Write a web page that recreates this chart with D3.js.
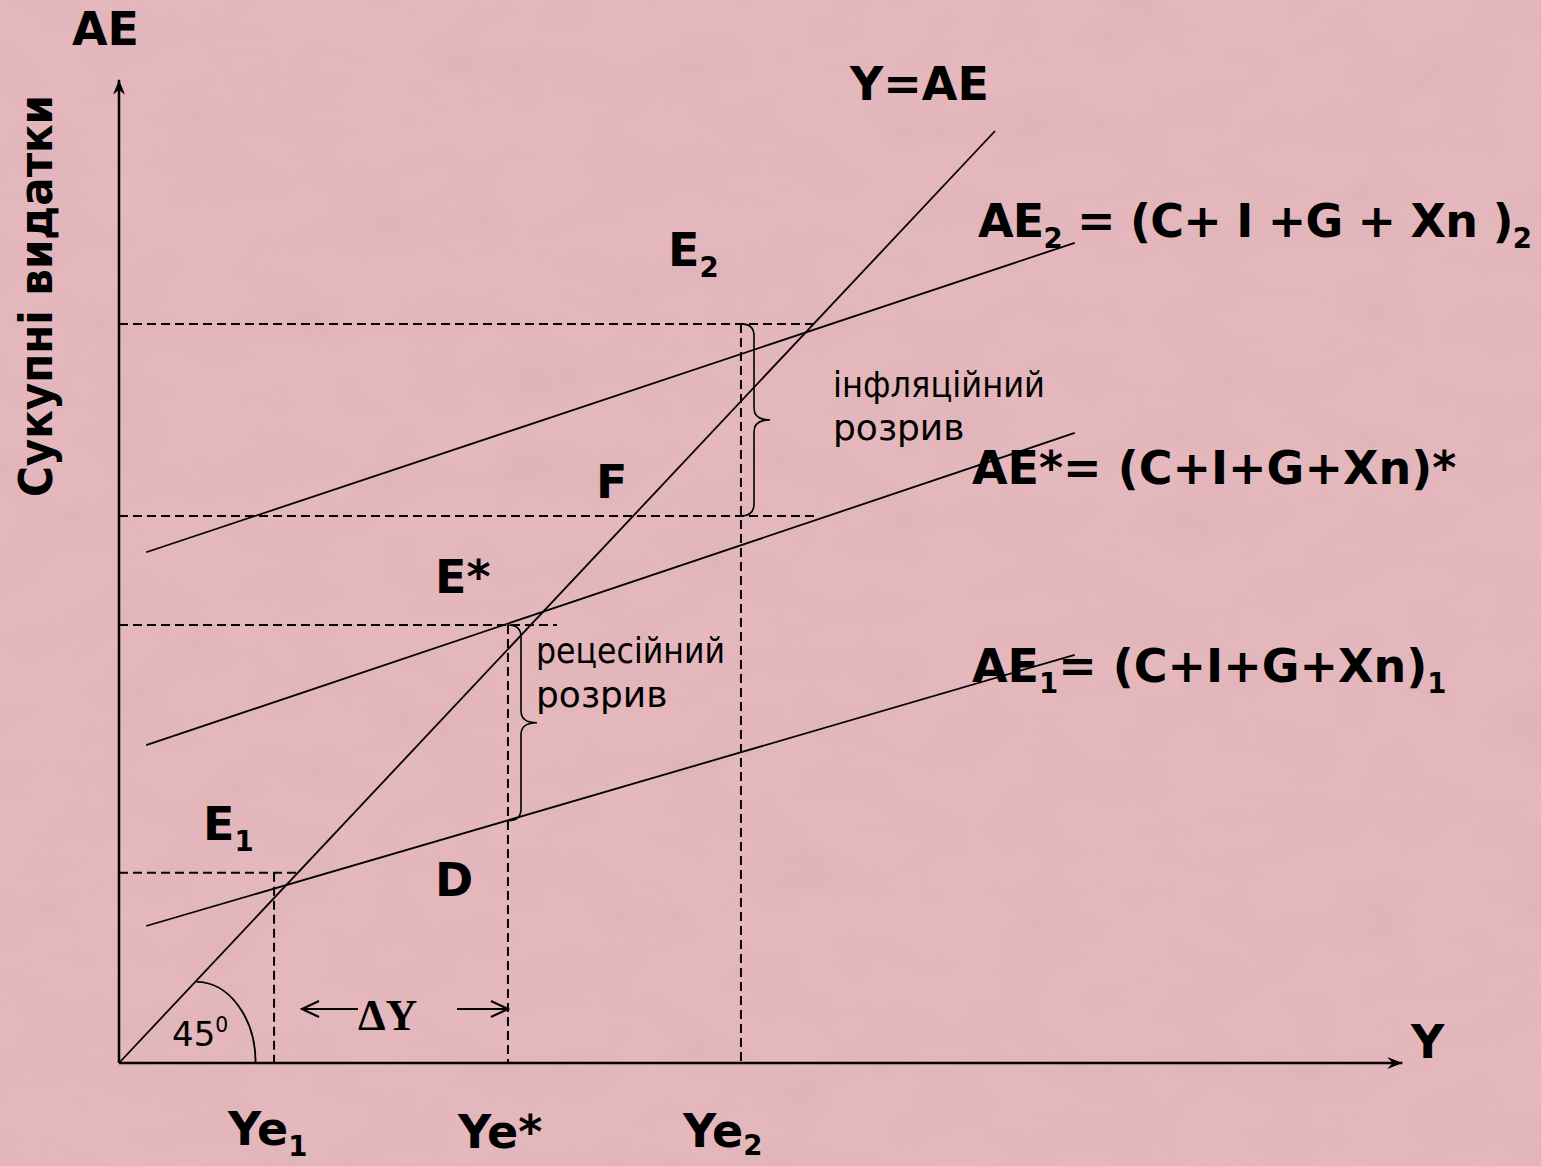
<!DOCTYPE html>
<html>
<head>
<meta charset="utf-8">
<script src="https://cdn.jsdelivr.net/npm/d3@7"></script>
<style>
  html, body { margin: 0; padding: 0; background: #e2b6bb; }
  svg { display: block; }
  .bold { font-family: 'DejaVu Sans', Verdana, sans-serif; font-weight: bold; fill: #000; }
  .note { font-family: 'DejaVu Sans', Verdana, sans-serif; fill: #000; }
</style>
</head>
<body>
<div id="chart"></div>
<script>

// Y = AE diagonal (data units: output Y on x, expenditure AE on y)
const diagonalX = [0, 100]

// aggregate expenditure lines, start and end heights
const aeNames = ['AE1', 'AE*', 'AE2']
const aeX = [3.1, 109.1]
const aeStart = [14.7, 34.1, 54.8]
const aeEnd = [43.8, 67.6, 88.0]

// equilibrium outputs on the Y axis
const yeNames = ['Ye1', 'Ye*', 'Ye2']
const yeValues = [17.7, 44.4, 71.0]
const yeTops = [20.4, 47.0, 79.3]

// horizontal dashed guides: level, right end
const guideLevels = [20.4, 47.0, 79.3, 58.7]
const guideEnds = [20.3, 50.0, 79.8, 79.8]

// gaps (braces): x position, bottom, top
const gapNames = ['рецесійний', 'інфляційний']
const gapX = [44.4, 71.0]
const gapLow = [26.0, 58.7]
const gapHigh = [47.0, 79.3]

const axisMaxX = 146.5
const axisMaxY = 105.5

const width = 1541
const height = 1166

const x = d3.scaleLinear().domain([0, 100]).range([119, 995])
const y = d3.scaleLinear().domain([0, 100]).range([1063, 131])

const svg = d3.select('#chart').append('svg')
  .attr('width', width)
  .attr('height', height)

const defs = svg.append('defs')

// mottled paper texture
const f = defs.append('filter').attr('id', 'paper')
  .attr('x', 0).attr('y', 0).attr('width', '100%').attr('height', '100%')
f.append('feTurbulence')
  .attr('type', 'fractalNoise')
  .attr('baseFrequency', '0.012 0.02')
  .attr('numOctaves', 4)
  .attr('seed', 7)
f.append('feColorMatrix')
  .attr('type', 'matrix')
  .attr('values', '0 0 0 0 0.55  0 0 0 0 0.35  0 0 0 0 0.38  0 0 0 0.9 -0.3')

defs.append('marker')
    .attr('id', 'axisHead')
    .attr('viewBox', '-16 -7 18 14')
    .attr('markerWidth', 18)
    .attr('markerHeight', 14)
    .attr('markerUnits', 'userSpaceOnUse')
    .attr('orient', 'auto')
  .append('path')
    .attr('d', 'M0,0 L-15,-6 L-10,0 L-15,6 Z')
    .attr('fill', '#000')

defs.append('marker')
    .attr('id', 'openHead')
    .attr('viewBox', '-20 -10 22 20')
    .attr('markerWidth', 22)
    .attr('markerHeight', 20)
    .attr('markerUnits', 'userSpaceOnUse')
    .attr('orient', 'auto')
  .append('path')
    .attr('d', 'M-17,-8 L0,0 L-17,8')
    .attr('fill', 'none')
    .attr('stroke', '#000')
    .attr('stroke-width', 2)

svg.append('rect')
  .attr('width', width).attr('height', height)
  .attr('fill', '#e5b8bd')
svg.append('rect')
  .attr('width', width).attr('height', height)
  .attr('filter', 'url(#paper)')
  .attr('opacity', 0.35)

const line = d3.line().x(d => x(d[0])).y(d => y(d[1]))

// dashed guides
const dash = svg.append('g')
  .attr('fill', 'none')
  .attr('stroke', '#000')
  .attr('stroke-width', 2)
  .attr('stroke-dasharray', '9,5')

dash.selectAll('.guide')
  .data(guideLevels)
  .enter().append('path')
    .attr('class', 'guide')
    .attr('d', (d, i) => line([[0, d], [guideEnds[i], d]]))

dash.selectAll('.drop')
  .data(yeValues)
  .enter().append('path')
    .attr('class', 'drop')
    .attr('d', (d, i) => line([[d, yeTops[i]], [d, 0]]))

// axes
svg.append('path')
  .attr('d', line([[0, 0], [0, axisMaxY]]))
  .attr('stroke', '#000').attr('stroke-width', 2.5)
  .attr('marker-end', 'url(#axisHead)')
svg.append('path')
  .attr('d', line([[0, 0], [axisMaxX, 0]]))
  .attr('stroke', '#000').attr('stroke-width', 2.5)
  .attr('marker-end', 'url(#axisHead)')

// Y = AE
svg.append('path')
  .attr('d', line(diagonalX.map(v => [v, v])))
  .attr('stroke', '#000').attr('stroke-width', 1.8)

// AE lines
svg.selectAll('.ae')
  .data(aeNames)
  .enter().append('path')
    .attr('class', 'ae')
    .attr('d', (d, i) => line([[aeX[0], aeStart[i]], [aeX[1], aeEnd[i]]]))
    .attr('stroke', '#000').attr('stroke-width', 1.8)

// 45 degree arc
const arcCx = x(8.85), arcRx = x(15.6) - x(8.85), arcRy = y(0) - y(8.7)
svg.append('path')
  .attr('d', 'M' + arcCx + ',' + (y(0) - arcRy) +
    ' A' + arcRx + ',' + arcRy + ' 0 0 1 ' + (arcCx + arcRx) + ',' + y(0))
  .attr('fill', 'none').attr('stroke', '#000').attr('stroke-width', 1.8)

// braces
function brace(x0, yTop, yBot, w) {
  var h = w * 0.45, r = 12, ym = (yTop + yBot) / 2
  return 'M' + x0 + ',' + yTop +
    ' Q' + (x0 + h) + ',' + yTop + ' ' + (x0 + h) + ',' + (yTop + r) +
    ' L' + (x0 + h) + ',' + (ym - r) +
    ' Q' + (x0 + h) + ',' + ym + ' ' + (x0 + w) + ',' + ym +
    ' Q' + (x0 + h) + ',' + ym + ' ' + (x0 + h) + ',' + (ym + r) +
    ' L' + (x0 + h) + ',' + (yBot - r) +
    ' Q' + (x0 + h) + ',' + yBot + ' ' + x0 + ',' + yBot
}

svg.selectAll('.brace')
  .data(gapNames)
  .enter().append('path')
    .attr('class', 'brace')
    .attr('d', (d, i) => brace(x(gapX[i]), y(gapHigh[i]), y(gapLow[i]), 29))
    .attr('fill', 'none').attr('stroke', '#000').attr('stroke-width', 1.6)

// delta Y arrows
svg.append('path')
  .attr('d', 'M358,1009 L302,1009')
  .attr('stroke', '#000').attr('stroke-width', 2)
  .attr('marker-end', 'url(#openHead)')
svg.append('path')
  .attr('d', 'M457,1009 L' + x(yeValues[1]) + ',1009')
  .attr('stroke', '#000').attr('stroke-width', 2)
  .attr('marker-end', 'url(#openHead)')

// labels
function label(px, py, parts, size, cls, subShift) {
  var t = svg.append('text')
    .attr('class', cls || 'bold')
    .attr('x', px).attr('y', py)
    .attr('font-size', size)
  var shift = 0
  parts.forEach(p => {
    var s = typeof p === 'string' ? { t: p } : p
    var want = s.sub ? (subShift || 11) : (s.sup ? -14 : 0)
    var ts = t.append('tspan').text(s.t).attr('dy', want - shift)
    if (s.sub || s.sup) ts.attr('font-size', size * 0.6)
    shift = want
  })
  return t
}

label(72, 45, ['AE'], 46)
label(850, 100, ['Y=AE'], 46)
label(978, 237, ['AE', { t: '2', sub: 1 }, ' = (C+ I +G + Xn )', { t: '2', sub: 1 }], 46)
  .attr('letter-spacing', -0.8)
label(972, 484, ['AE*= (C+I+G+Xn)*'], 46)
label(972, 682, ['AE', { t: '1', sub: 1 }, '= (C+I+G+Xn)', { t: '1', sub: 1 }], 46)
label(1411, 1058, ['Y'], 46)

label(668, 266, ['E', { t: '2', sub: 1 }], 46)
label(596, 498, ['F'], 46)
label(435, 593, ['E*'], 46)
label(203, 840, ['E', { t: '1', sub: 1 }], 46)
label(435, 896, ['D'], 46)

label(228, 1145, ['Ye', { t: '1', sub: 1 }], 46)
label(458, 1148, ['Ye*'], 46)
label(683, 1147, ['Ye', { t: '2', sub: 1 }], 46, 'bold', 8)

svg.append('text')
  .attr('class', 'bold')
  .attr('transform', 'translate(52,296) rotate(-90)')
  .attr('text-anchor', 'middle')
  .attr('font-size', 46)
  .attr('textLength', 402)
  .attr('lengthAdjust', 'spacingAndGlyphs')
  .text('Сукупні видатки')

label(833, 397, ['інфляційний'], 36, 'note').attr('textLength', 212).attr('lengthAdjust', 'spacingAndGlyphs')
label(833, 440, ['розрив'], 36, 'note')
label(536, 663, ['рецесійний'], 36, 'note').attr('textLength', 189).attr('lengthAdjust', 'spacingAndGlyphs')
label(536, 707, ['розрив'], 36, 'note')

label(172, 1046, ['45', { t: '0', sup: 1 }], 34, 'note')

svg.append('text')
  .attr('x', 358).attr('y', 1030)
  .attr('font-family', "'Liberation Serif', 'Times New Roman', serif")
  .attr('font-weight', 'bold')
  .attr('font-size', 44)
  .text('ΔY')

</script>
</body>
</html>
